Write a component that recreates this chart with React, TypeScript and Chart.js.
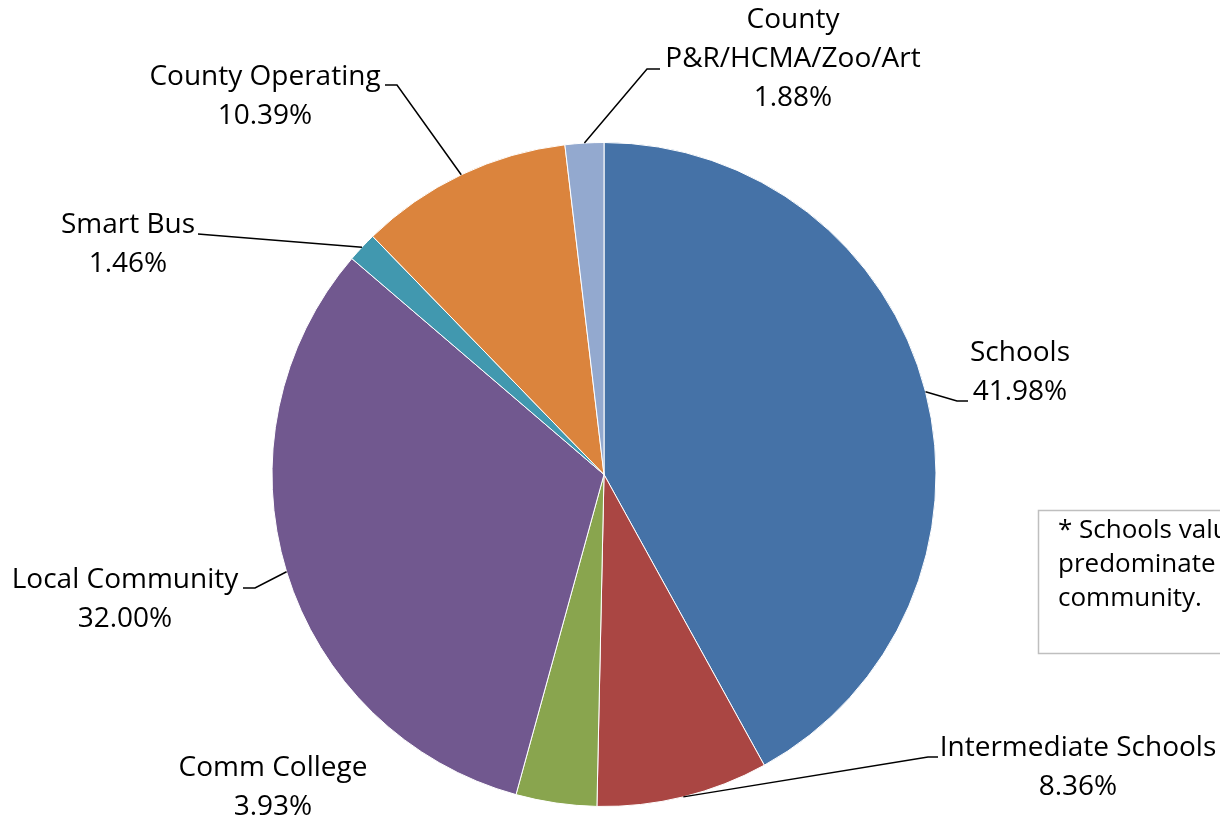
import React, { useEffect, useRef } from "react";
import { Chart, registerables } from "chart.js";

Chart.register(...registerables);

const categories = [
  "Schools",
  "Intermediate Schools",
  "Comm College",
  "Local Community",
  "Smart Bus",
  "County Operating",
  "County P&R/HCMA/Zoo/Art",
];
const shares = [41.98, 8.36, 3.93, 32.0, 1.46, 10.39, 1.88];
const labelLines = [
  ["Schools", "41.98%"],
  ["Intermediate Schools", "8.36%"],
  ["Comm College", "3.93%"],
  ["Local Community", "32.00%"],
  ["Smart Bus", "1.46%"],
  ["County Operating", "10.39%"],
  ["County", "P&R/HCMA/Zoo/Art", "1.88%"],
];
const colors = ["#4572A7", "#AA4643", "#89A54E", "#71588F", "#4198AF", "#DB843D", "#93A9CF"];
const noteLines = ["* Schools values are the", "predominate school district in the", "community."];

// label layout: text centre x, first line centre y, leader elbow / end (null = no leader)
const labelLayout = [
  { cx: 1020, cy: 353, elbow: [957, 401], end: [968, 401] },
  { cx: 1078, cy: 748, elbow: [928, 757], end: [938, 757] },
  { cx: 273, cy: 768, elbow: null, end: null },
  { cx: 125, cy: 580, elbow: [255, 588], end: [243, 588] },
  { cx: 128, cy: 225, elbow: [210, 235], end: [198, 234] },
  { cx: 265, cy: 77, elbow: [397, 85], end: [385, 85] },
  { cx: 793, cy: 20, elbow: [647, 69], end: [660, 69] },
];

const FONT = "'Open Sans'";
const FONT_SIZE = 28;
const LINE_H = 39;

const labelPlugin = {
  id: "pieLabels",
  afterDraw(chart: any) {
    const ctx = chart.ctx as CanvasRenderingContext2D;
    const meta = chart.getDatasetMeta(0);
    ctx.save();
    ctx.strokeStyle = "#000";
    ctx.lineWidth = 1.5;
    ctx.fillStyle = "#000";
    ctx.font = `${FONT_SIZE}px ${FONT}`;
    ctx.textAlign = "center";
    ctx.textBaseline = "middle";
    meta.data.forEach((arc: any, i: number) => {
      const lay = labelLayout[i];
      if (lay.elbow && lay.end) {
        const mid = (arc.startAngle + arc.endAngle) / 2;
        const sx = arc.x + Math.cos(mid) * arc.outerRadius;
        const sy = arc.y + Math.sin(mid) * arc.outerRadius;
        ctx.beginPath();
        ctx.moveTo(sx, sy);
        ctx.lineTo(lay.elbow[0], lay.elbow[1]);
        ctx.lineTo(lay.end[0], lay.end[1]);
        ctx.stroke();
      }
      labelLines[i].forEach((t, k) => {
        ctx.fillText(t, lay.cx, lay.cy + k * LINE_H);
      });
    });
    // note box
    ctx.strokeStyle = "#BFBFBF";
    ctx.lineWidth = 1.5;
    ctx.strokeRect(1038.5, 510.5, 300, 143);
    ctx.textAlign = "left";
    ctx.font = `26px ${FONT}`;
    noteLines.forEach((t, k) => ctx.fillText(t, 1058, 531 + k * 34));
    ctx.restore();
  },
};

export default function App() {
  const ref = useRef<HTMLCanvasElement>(null);
  useEffect(() => {
    document.body.style.margin = "0";
    document.body.style.overflow = "hidden";
    const chart = new Chart(ref.current!, {
      type: "pie",
      data: {
        labels: categories,
        datasets: [
          {
            data: shares,
            backgroundColor: colors,
            borderColor: "#ffffff",
            borderWidth: 1,
            hoverOffset: 0,
            radius: 332,
          } as any,
        ],
      },
      options: {
        responsive: false,
        animation: false,
        events: [],
        layout: { padding: { left: 272, right: 284, top: 142, bottom: 15 } },
        plugins: { legend: { display: false }, tooltip: { enabled: false } },
      },
      plugins: [labelPlugin],
    });
    return () => chart.destroy();
  }, []);
  return (
    <div style={{ width: 1220, height: 822, background: "#fff" }}>
      <canvas ref={ref} width={1220} height={822} style={{ display: "block" }} />
    </div>
  );
}
